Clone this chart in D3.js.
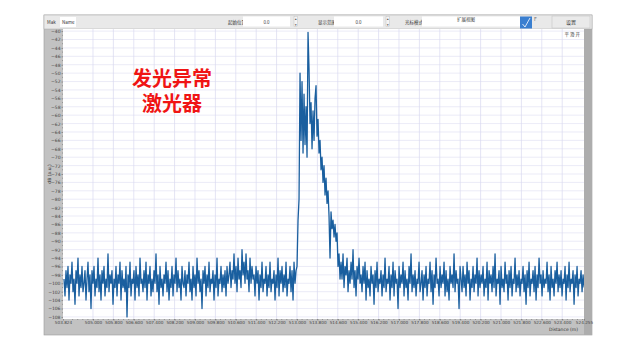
<!DOCTYPE html>
<html><head><meta charset="utf-8">
<script src="https://cdn.jsdelivr.net/npm/d3@7/dist/d3.min.js"></script>
<style>html,body{margin:0;padding:0;background:#fff;}svg{display:block;}</style>
</head><body>
<script>
// ---- data ----
const distStart = 503.863, distStep = 0.03922;   // sampling grid (m)
const noiseBefore = [
-99,-103,-97,-101,-96,-104,-98,-100,-95,-102,-99,-105,-97,-100,-94,-103,-98,-101,-96,-102,
-100,-97,-104,-99,-95,-102,-98,-106,-97,-100,-96,-103,-99,-101,-94,-102,-98,-104,-97,-100,
-96,-103,-99,-101,-93,-102,-98,-100,-97,-105,-99,-101,-96,-103,-98,-100,-95,-104,-97,-101,
-99,-102,-96,-108,-98,-101,-95,-103,-99,-100,-97,-104,-96,-101,-98,-103,-94,-100,-99,-102,
-97,-101,-95,-104,-98,-100,-96,-103,-99,-102,-97,-100,-93,-102,-98,-105,-96,-101,-99,-103,
-98,-100,-95,-102,-97,-104,-99,-101,-96,-103,-98,-100,-94,-102,-97,-101,-99,-104,-96,-100,
-101,-97,-103,-98,-100,-95,-102,-99,-104,-96,-101,-98,-103,-94,-100,-97,-102,-99,-106,-97,
-100,-96,-103,-98,-101,-95,-102,-99,-100,-97,-104,-98,-101,-94,-103,-99,-100,-96,-102,-98,
-101,-97,-103,-96,-100,-98,-95,-101,-97,-99,-93,-100,-96,-102,-94,-99,-97,-101,-92,-98,
-95,-100,-93,-99,-97,-102,-94,-100,-96,-99,-98,-103,-96,-100,-97,-104,-98,-101,-95,-102,
-99,-100,-96,-103,-98,-101,-95,-102,-99,-100,-97,-104,-98,-101,-94,-103,-97,-100,-96,-102,
-98,-101,-95,-103,-99,-100,-96,-102,-97,-104,-95,-100,-97];
const peakValues = [
-96,-85,-80,-50,-66,-52,-69,-55,-67,-58,-70,-40.3,-49,-62,-57,-68,-59,-66,-56,-53,
-65,-61,-69,-66,-73,-70,-76,-72,-79,-75,-81,-78,-84,-94,-83,-87,-85,-89,-86,-90,
-88,-96,-93,-99];
const noiseAfter = [
-95,-99,-93,-101,-96,-98,-94,-102,-97,-100,-95,-99,-92,-101,-97,-103,-96,-99,-94,-100,
-98,-102,-96,-100,-95,-104,-97,-101,-99,-103,-96,-100,-98,-105,-97,-101,-95,-102,-99,-100,
-97,-103,-98,-101,-94,-102,-99,-100,-96,-104,-98,-101,-95,-103,-97,-100,-99,-106,-96,-101,
-98,-100,-95,-103,-97,-101,-99,-104,-96,-100,-93,-102,-98,-101,-97,-103,-99,-100,-95,-102,
-100,-97,-104,-98,-101,-96,-103,-99,-100,-95,-102,-97,-105,-98,-101,-94,-100,-99,-103,-96,
-101,-98,-100,-95,-103,-97,-102,-99,-104,-96,-100,-98,-101,-93,-102,-97,-100,-99,-106,-96,
-99,-102,-96,-101,-98,-103,-95,-100,-97,-104,-99,-101,-96,-102,-98,-100,-94,-103,-97,-101,
-98,-100,-96,-103,-99,-101,-95,-104,-97,-100,-98,-102,-96,-101,-93,-103,-99,-100,-97,-105,
-96,-101,-99,-102,-95,-100,-98,-104,-97,-101,-96,-103,-99,-100,-94,-102,-98,-101,-97,-103,
-99,-100,-96,-102,-98,-105,-97,-101,-95,-103,-99,-100,-97,-102,-96,-104,-98,-101,-94,-100,
-98,-103,-97,-101,-99,-100,-95,-102,-98,-104,-96,-101,-99,-103,-97,-100,-95,-102,-98,-101,
-97,-103,-99,-100,-96,-104,-98,-101,-95,-102,-99,-100,-97,-105,-98,-101,-96,-103,-99,-100,
-97,-102,-98,-101];
const xMin = 503.824, xMax = 524.255;
const xTickValues = [505.0,505.8,506.6,507.4,508.2,509.0,509.8,510.6,511.4,512.2,513.0,513.8,
  514.6,515.4,516.2,517.0,517.8,518.6,519.4,520.2,521.0,521.8,522.6,523.4];
const yTickValues = d3.range(-40, -108.1, -2);
const yMin = -108.5, yMax = -39.5;
const noteLines = ["发光异常", "激光器"];
const toolbarLabels = ["起始位置", "显示范围", "光标模式"];
const toolbarValues = ["0.0", "0.0", "扩展视图"];

const levels = noiseBefore.concat(peakValues, noiseAfter);
const series = levels.map((v, i) => ({d: distStart + i * distStep, v}));

// ---- layout ----
const W = 638, H = 348;
const P = {l: 63, r: 584, t: 29, b: 319};
const svg = d3.select("body").append("svg").attr("width", W).attr("height", H);
const font = "Noto Sans CJK SC, Noto Sans, sans-serif";

// frame
svg.append("rect").attr("x", 44).attr("y", 15).attr("width", 548).attr("height", 320)
  .attr("fill", "#c2c2c2").attr("stroke", "#9a9a9a").attr("stroke-width", 0.6);
svg.append("rect").attr("x", 584).attr("y", 29).attr("width", 8).attr("height", 306).attr("fill", "#adadad");
// toolbar
svg.append("rect").attr("x", 44).attr("y", 15).attr("width", 548).attr("height", 14)
  .attr("fill", "#e9e9e9").attr("stroke", "#a8a8a8").attr("stroke-width", 0.5);
svg.append("text").attr("x", 47).attr("y", 24).attr("font-size", 4.5).attr("font-family", font).attr("fill", "#333").text("Mak");
svg.append("rect").attr("x", 60).attr("y", 17).attr("width", 16).attr("height", 10).attr("fill", "#fff");
svg.append("text").attr("x", 62).attr("y", 24).attr("font-size", 4.5).attr("font-family", font).attr("fill", "#333").text("Name");

const boxes = [{lx: 228, bx: 243, bw: 47, sp: 294}, {lx: 318, bx: 334, bw: 49, sp: 386}, {lx: 405, bx: 422, bw: 98, sp: null}];
boxes.forEach((b, i) => {
  svg.append("text").attr("x", b.lx).attr("y", 24).attr("font-size", 4.5).attr("font-family", font).attr("fill", "#333").text(toolbarLabels[i]);
  svg.append("rect").attr("x", b.bx).attr("y", 16.5).attr("width", b.bw).attr("height", 10).attr("fill", "#fff");
  svg.append("text").attr("x", b.bx + b.bw / 2 + (i === 2 ? -5 : 0)).attr("y", i === 2 ? 21 : 23.5).attr("text-anchor", "middle")
    .attr("font-size", 4.5).attr("font-family", font).attr("fill", "#444").text(toolbarValues[i]);
  if (b.sp) {
    svg.append("rect").attr("x", b.sp).attr("y", 16.5).attr("width", 3.5).attr("height", 10).attr("fill", "#f4f4f4").attr("stroke", "#aaa").attr("stroke-width", 0.3);
    svg.append("text").attr("x", b.sp + 1.75).attr("y", 20).attr("text-anchor", "middle").attr("font-size", 3).attr("fill", "#555").text("▲");
    svg.append("text").attr("x", b.sp + 1.75).attr("y", 26).attr("text-anchor", "middle").attr("font-size", 3).attr("fill", "#555").text("▼");
  }
});
svg.append("rect").attr("x", 520).attr("y", 16.5).attr("width", 12).attr("height", 12).attr("fill", "#3a7fd0");
svg.append("path").attr("d", "M522.5 24 L525 27 L530 18").attr("fill", "none").attr("stroke", "#fff").attr("stroke-width", 0.8);
svg.append("text").attr("x", 534).attr("y", 21).attr("font-size", 5).attr("font-family", font).attr("fill", "#666").text("F");
svg.append("rect").attr("x", 552).attr("y", 16).attr("width", 38).attr("height", 12).attr("fill", "#eaeaea").attr("stroke", "#c0c0c0").attr("stroke-width", 0.5);
svg.append("text").attr("x", 571).attr("y", 24).attr("text-anchor", "middle").attr("font-size", 5).attr("font-family", font).attr("fill", "#333").text("设置");

// plot area
svg.append("rect").attr("x", P.l).attr("y", P.t).attr("width", P.r - P.l).attr("height", P.b - P.t).attr("fill", "#fff");

const x = d3.scaleLinear().domain([xMin, xMax]).range([P.l, P.r]);
const y = d3.scaleLinear().domain([yMin, yMax]).range([P.b, P.t]);

// grid
svg.append("g").selectAll("line").data(yTickValues).join("line")
  .attr("x1", P.l).attr("x2", P.r).attr("y1", d => y(d)).attr("y2", d => y(d))
  .attr("stroke", "#e3e3f3").attr("stroke-width", 0.7);
svg.append("g").selectAll("line").data(xTickValues).join("line")
  .attr("y1", P.t).attr("y2", P.b).attr("x1", d => x(d)).attr("x2", d => x(d))
  .attr("stroke", "#d8d8ef").attr("stroke-width", 0.7);

// trace
const clip = svg.append("clipPath").attr("id", "clip").append("rect")
  .attr("x", P.l).attr("y", P.t).attr("width", P.r - P.l).attr("height", P.b - P.t);
svg.append("path").datum(series).attr("clip-path", "url(#clip)")
  .attr("d", d3.line().x(d => x(d.d)).y(d => y(d.v)))
  .attr("fill", "none").attr("stroke", "#1a5f9f").attr("stroke-width", 1.3).attr("stroke-linejoin", "round");

// axes
const yAxis = d3.axisLeft(y).tickValues(yTickValues).tickFormat(d3.format("d")).tickSize(1.5).tickPadding(1);
const gy = svg.append("g").attr("transform", `translate(${P.l},0)`).call(yAxis);
gy.select(".domain").remove();
gy.selectAll("text").attr("font-size", 4.5).attr("font-family", "DejaVu Sans").attr("fill", "#444");
gy.selectAll("line").attr("stroke", "#555").attr("stroke-width", 0.5);
const yMinor = d3.range(-41, -108, -2);
svg.append("g").selectAll("line").data(yMinor).join("line")
  .attr("x1", P.l - 1).attr("x2", P.l).attr("y1", d => y(d)).attr("y2", d => y(d)).attr("stroke", "#666").attr("stroke-width", 0.5);

const xLabelVals = [xMin].concat(xTickValues, [xMax]);
const xAxis = d3.axisBottom(x).tickValues(xLabelVals).tickFormat(d3.format(".3f")).tickSize(1.5).tickPadding(1);
const gx = svg.append("g").attr("transform", `translate(0,${P.b})`).call(xAxis);
gx.select(".domain").remove();
gx.selectAll("text").attr("font-size", 4.2).attr("font-family", "DejaVu Sans").attr("fill", "#444");
gx.selectAll("line").attr("stroke", "#555").attr("stroke-width", 0.5);
const xMinor = d3.range(xTickValues[0] - 0.8, xMax, 0.2).filter(v => v > xMin && v < xMax);
svg.append("g").selectAll("line").data(xMinor).join("line")
  .attr("y1", P.b).attr("y2", P.b + 1).attr("x1", d => x(d)).attr("x2", d => x(d)).attr("stroke", "#666").attr("stroke-width", 0.5);

svg.append("text").attr("x", 578).attr("y", 331).attr("text-anchor", "end").attr("font-size", 4.5)
  .attr("font-family", "DejaVu Sans").attr("fill", "#333").text("Distance (m)");
svg.append("text").attr("transform", "translate(51,174) rotate(-90)").attr("text-anchor", "middle")
  .attr("font-size", 4.5).attr("font-family", "DejaVu Sans").attr("fill", "#333").text("dB (a.u.)");
svg.append("text").attr("x", 580).attr("y", 36).attr("text-anchor", "end").attr("font-size", 4.5)
  .attr("font-family", font).attr("fill", "#444").text("平 滑 开");

// annotation (one text block, two lines)
const note = svg.append("text").attr("text-anchor", "middle")
  .attr("font-size", 20).attr("font-weight", "bold").attr("font-family", "Noto Sans CJK SC")
  .attr("fill", "#f01414");
note.selectAll("tspan").data(noteLines).join("tspan")
  .attr("x", 172).attr("y", (d, i) => 86 + i * 25).text(d => d);
</script>
</body></html>
